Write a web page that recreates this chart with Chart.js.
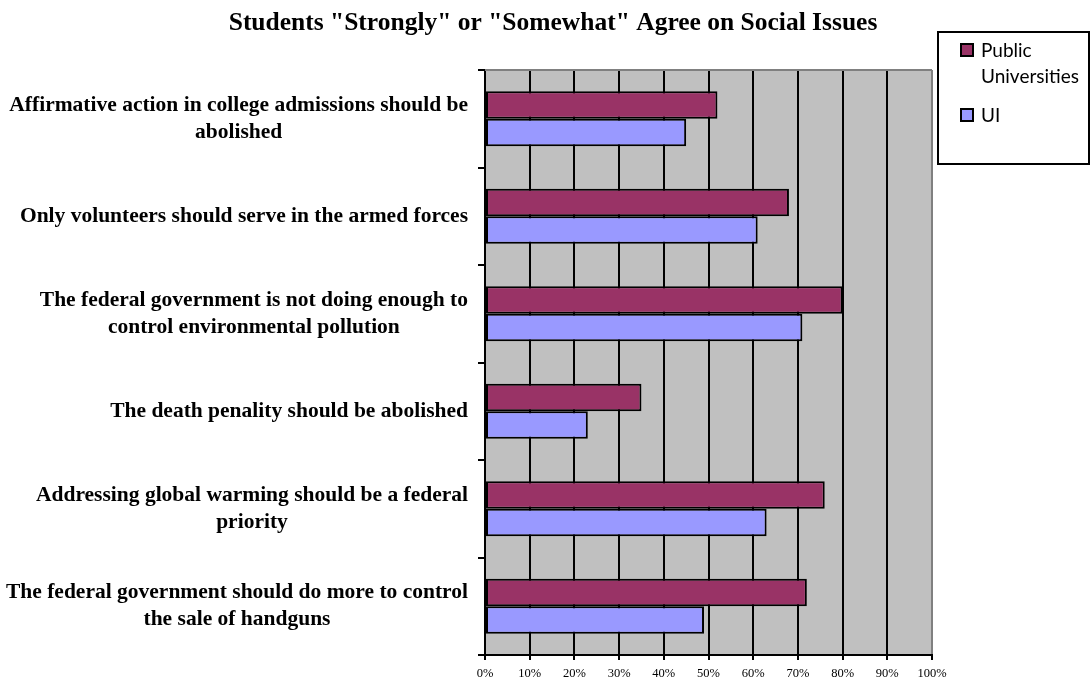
<!DOCTYPE html>
<html>
<head>
<meta charset="utf-8">
<title>Students Agree on Social Issues</title>
<script src="https://cdn.jsdelivr.net/npm/chart.js@4.4.1/dist/chart.umd.min.js"></script>
<style>
  html, body { margin: 0; padding: 0; background: #fff; }
  canvas { display: block; }
</style>
</head>
<body>
<canvas id="myChart" width="1091" height="687"></canvas>
<script>
// survey statements, one entry per bar group (each line of a label is a separate string)
const categories = [
  ['Affirmative action in college admissions should be', 'abolished'],
  ['Only volunteers should serve in the armed forces'],
  ['The federal government is not doing enough to', 'control environmental pollution'],
  ['The death penality should be abolished'],
  ['Addressing global warming should be a federal', 'priority'],
  ['The federal government should do more to control', 'the sale of handguns']
];

// percent agreeing ("strongly" or "somewhat")
const publicUniversities = [52, 68, 80, 35, 76, 72];
const uiStudents = [45, 61, 71, 23, 63, 49];

const xTickValues = [0, 10, 20, 30, 40, 50, 60, 70, 80, 90, 100];

const serif = '"Liberation Serif", "Times New Roman", serif';

// grey plot background plus a grey frame on top
const plotBackground = {
  id: 'plotBackground',
  beforeDraw(chart) {
    const { ctx, chartArea: a } = chart;
    ctx.save();
    ctx.fillStyle = '#c0c0c0';
    ctx.fillRect(a.left, a.top, a.right - a.left, a.bottom - a.top);
    ctx.restore();
  },
  beforeDatasetsDraw(chart) {
    const { ctx, chartArea: a } = chart;
    ctx.save();
    ctx.strokeStyle = '#808080';
    ctx.lineWidth = 2;
    ctx.beginPath();
    ctx.moveTo(a.left, a.top);
    ctx.lineTo(a.right, a.top);
    ctx.stroke();
    ctx.restore();
  }
};

// category labels: block right-aligned against the axis, lines centred inside the block
const statementLabels = {
  id: 'statementLabels',
  afterDraw(chart) {
    const { ctx } = chart;
    const yScale = chart.scales.y;
    const rightEdge = chart.chartArea.left - 17;
    const lineHeight = 27;
    ctx.save();
    ctx.font = 'bold 21.5px ' + serif;
    ctx.fillStyle = '#000';
    ctx.textAlign = 'center';
    ctx.textBaseline = 'middle';
    categories.forEach((lines, i) => {
      const cy = yScale.getPixelForValue(i);
      const blockWidth = Math.max(...lines.map(l => ctx.measureText(l).width));
      const cx = rightEdge - blockWidth / 2;
      const y0 = cy - (lines.length - 1) * lineHeight / 2;
      lines.forEach((l, j) => ctx.fillText(l, cx, y0 + j * lineHeight));
    });
    ctx.restore();
  }
};

// boxed legend in the upper right corner
const boxLegend = {
  id: 'boxLegend',
  afterDraw(chart) {
    const { ctx } = chart;
    const box = { left: 938, top: 32, right: 1089, bottom: 164 };
    ctx.save();
    ctx.strokeStyle = '#000';
    ctx.lineWidth = 2;
    ctx.strokeRect(box.left, box.top, box.right - box.left, box.bottom - box.top);

    ctx.font = '19px Lato, sans-serif';
    ctx.textBaseline = 'alphabetic';
    const textX = box.left + 43;
    const maxW = box.right - textX - 4;
    let baseline = box.top + 25;
    chart.data.datasets.forEach(ds => {
      // simple word wrap
      const words = ds.label.split(' ');
      const lines = [];
      let cur = '';
      words.forEach(w => {
        const test = cur ? cur + ' ' + w : w;
        if (ctx.measureText(test).width > maxW && cur) { lines.push(cur); cur = w; }
        else cur = test;
      });
      lines.push(cur);

      ctx.fillStyle = ds.backgroundColor;
      ctx.fillRect(box.left + 23, baseline - 13, 12, 12);
      ctx.lineWidth = 2;
      ctx.strokeStyle = '#000';
      ctx.strokeRect(box.left + 23, baseline - 13, 12, 12);

      ctx.fillStyle = '#000';
      lines.forEach((l, j) => ctx.fillText(l, textX, baseline + j * 26));
      baseline += lines.length * 26 + 13;
    });
    ctx.restore();
  }
};

const ctx = document.getElementById('myChart').getContext('2d');
new Chart(ctx, {
  type: 'bar',
  data: {
    labels: categories,
    datasets: [
      {
        label: 'Public Universities',
        data: publicUniversities,
        backgroundColor: '#993366',
        borderColor: '#000',
        borderWidth: 2,
        borderSkipped: false,
        categoryPercentage: 0.565,
        barPercentage: 1
      },
      {
        label: 'UI',
        data: uiStudents,
        backgroundColor: '#9999ff',
        borderColor: '#000',
        borderWidth: 2,
        borderSkipped: false,
        categoryPercentage: 0.565,
        barPercentage: 1
      }
    ]
  },
  options: {
    indexAxis: 'y',
    responsive: false,
    animation: false,
    // left padding + y axis width put the plot at x=485; the padding pair also centres the title
    layout: { padding: { left: 174, right: 159, top: 0, bottom: 0 } },
    plugins: {
      legend: { display: false },
      tooltip: { enabled: false },
      title: {
        display: true,
        text: 'Students "Strongly" or "Somewhat" Agree on Social Issues',
        color: '#000',
        font: { family: serif, size: 25.5, weight: 'bold', lineHeight: 1.2 },
        padding: { top: 8, bottom: 31.4 }
      }
    },
    scales: {
      x: {
        min: 0,
        max: 100,
        afterBuildTicks(scale) {
          scale.ticks = xTickValues.map(v => ({ value: v }));
        },
        afterFit(scale) { scale.height = 32; },
        grid: {
          color: c => (c.tick && c.tick.value === 100 ? '#808080' : '#000'),
          tickColor: '#000',
          lineWidth: 2,
          tickLength: 5
        },
        border: { color: '#000', width: 2 },
        ticks: {
          color: '#000',
          padding: 6,
          font: { family: serif, size: 12.5 },
          callback: v => v + '%'
        }
      },
      y: {
        afterFit(scale) { scale.width = 311; },
        grid: {
          drawOnChartArea: false,
          color: '#000',
          lineWidth: 2,
          tickLength: 7
        },
        border: { color: '#000', width: 2 },
        ticks: { display: false }
      }
    }
  },
  plugins: [plotBackground, statementLabels, boxLegend]
});
</script>
</body>
</html>
